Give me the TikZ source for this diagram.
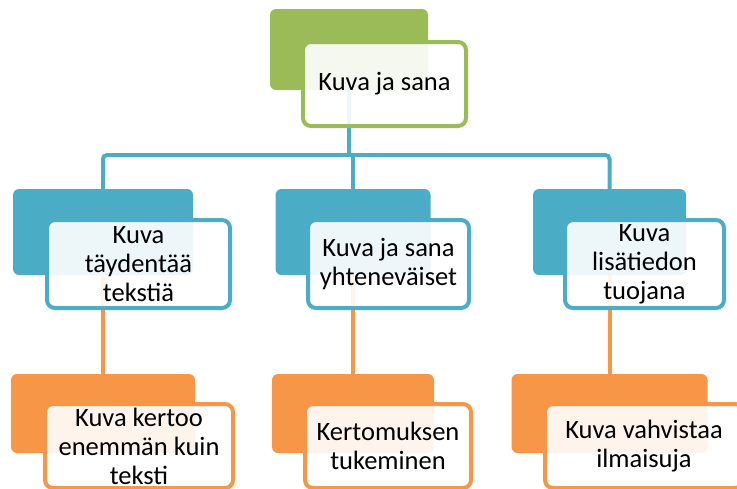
\documentclass[tikz,border=0pt]{standalone}
\usepackage{fontspec}
\setmainfont{Carlito}
\usepackage{tikz}
\usetikzlibrary{backgrounds}
\definecolor{leafgreen}{HTML}{9BBB59}
\definecolor{skyblue}{HTML}{4BACC6}
\definecolor{warmorange}{HTML}{F79646}

\begin{document}
\begin{tikzpicture}[
  x=1pt,y=-1pt,
  % back plate: colour, width, height
  back/.style n args={3}{rectangle,rounded corners=6pt,fill=#1,inner sep=0pt,
    minimum width=#2,minimum height=#3},
  % text card in front of the plate, a little see-through
  front/.style n args={3}{rectangle,rounded corners=8pt,draw=#1,line width=4pt,
    fill=white,fill opacity=0.9,text opacity=1,inner sep=0pt,align=center,
    minimum width=#2,minimum height=#3,font=\fontsize{26.5}{29}\selectfont},
  link/.style={draw=#1,line width=4pt,rounded corners=4pt}
]
  \useasboundingbox (0,0) rectangle (737,488);

  \node[back={leafgreen}{158pt}{81pt}] (topback) at (349,49.5) {};
  \node[front={leafgreen}{163pt}{84pt}] (top) at (384.5,84) {Kuva ja sana};

  \node[back={skyblue}{180pt}{86pt}] (fillback) at (103,232) {};
  \node[front={skyblue}{183pt}{88pt}] (fill) at (138.5,264) {Kuva\\täydentää\\tekstiä};
  \node[back={skyblue}{155pt}{86pt}] (sameback) at (353,232) {};
  \node[front={skyblue}{161pt}{88pt}] (same) at (388.5,264) {Kuva ja sana\\yhteneväiset};
  \node[back={skyblue}{153pt}{86pt}] (addback) at (609.5,232) {};
  \node[front={skyblue}{159pt}{88pt}] (add) at (644.5,264) {Kuva\\lisätiedon\\tuojana};

  \node[back={warmorange}{184pt}{79pt}] (moreback) at (103,413.5) {};
  \node[front={warmorange}{188pt}{84pt}] (more) at (139,446) {Kuva kertoo\\enemmän kuin\\teksti};
  \node[back={warmorange}{162pt}{79pt}] (supportback) at (353,413.5) {};
  \node[front={warmorange}{166pt}{84pt}] (support) at (388,446) {Kertomuksen\\tukeminen};
  \node[back={warmorange}{196pt}{79pt}] (confirmback) at (609.5,413.5) {};
  \node[front={warmorange}{198pt}{84pt}] (confirm) at (644,446) {Kuva vahvistaa\\ilmaisuja};

  \coordinate (bar) at (0,155);

  \begin{scope}[on background layer]
    \draw[link=skyblue] (topback.south) -- (topback.south |- bar);
    \draw[link=skyblue] (fillback.north) -- (fillback.north |- bar)
      -- (addback.north |- bar) -- (addback.north);
    \draw[link=skyblue] (sameback.north) -- (sameback.north |- bar);
    \draw[link=warmorange] (fillback.south) -- (moreback.north);
    \draw[link=warmorange] (sameback.south) -- (supportback.north);
    \draw[link=warmorange] (addback.south) -- (confirmback.north);
  \end{scope}
\end{tikzpicture}
\end{document}
